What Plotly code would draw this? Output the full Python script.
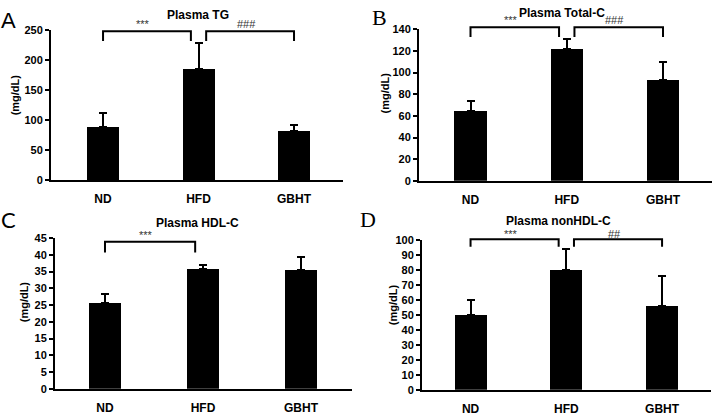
import plotly.graph_objects as go

# ---------------- data ----------------
categories = ["ND", "HFD", "GBHT"]

tg_mean = [88, 186, 81]
tg_err = [24, 43, 10]

tc_mean = [64.5, 122, 93]
tc_err = [9, 9.5, 17]

hdl_mean = [25.6, 35.9, 35.6]
hdl_err = [2.8, 1.0, 3.9]

nonhdl_mean = [50, 80, 56]
nonhdl_err = [10, 14, 20]

tg_sig = [(0, 1, "***"), (1, 2, "###")]
tc_sig = [(0, 1, "***"), (1, 2, "###")]
hdl_sig = [(0, 1, "***")]
nonhdl_sig = [(0, 1, "***"), (1, 2, "##")]

titles = ["Plasma TG", "Plasma Total-C", "Plasma HDL-C", "Plasma nonHDL-C"]
letters = ["A", "B", "C", "D"]
y_max = [250, 140, 45, 100]
y_dtick = [50, 20, 5, 10]

# ---------------- layout config (pixels) ----------------
W, H = 714, 420


def px(x):
    return x / W


def py(y):
    return 1 - y / H


panels = [
    dict(mean=tg_mean, err=tg_err, sig=tg_sig, box=(51, 343, 25, 179), xr=(-0.545, 2.513),
         brk=(248.4, 232.2), title_xy=(198, 9), ylab_xy=(15, 92), star_shift=7,
         letter_xy=(8, 15), letter_font="Liberation Sans"),
    dict(mean=tc_mean, err=tc_err, sig=tc_sig, box=(419, 712, 24, 180), xr=(-0.535, 2.509),
         brk=(141.8, 132.8), title_xy=(562, 7), ylab_xy=(385, 90), star_shift=7,
         letter_xy=(379, 12), letter_font="Liberation Serif"),
    dict(mean=hdl_mean, err=hdl_err, sig=hdl_sig, box=(55, 352, 239, 394), xr=(-0.51, 2.52),
         brk=(43.9, 40.7), title_xy=(197, 223), ylab_xy=(24, 305), star_shift=7,
         letter_xy=(8, 220), letter_font="Lato"),
    dict(mean=nonhdl_mean, err=nonhdl_err, sig=nonhdl_sig, box=(422, 711, 241, 395), xr=(-0.507, 2.511),
         brk=(100.6, 95.5), title_xy=(558, 221), ylab_xy=(393, 308), star_shift=5,
         letter_xy=(368, 220), letter_font="Liberation Serif"),
]

fig = go.Figure()
shapes = []
annotations = []
layout_axes = {}

bold = dict(family="Liberation Sans, Arial", color="black", weight="bold")

for i, p in enumerate(panels):
    n = "" if i == 0 else str(i + 1)
    xa, ya = "x" + n, "y" + n
    x0p, x1p, ytp, ybp = p["box"]
    xpos = list(range(len(categories)))
    fig.add_trace(go.Bar(
        x=xpos, y=p["mean"], width=0.335,
        marker=dict(color="black", line=dict(width=0)),
        error_y=dict(type="data", symmetric=False, array=p["err"],
                     arrayminus=[0] * len(categories),
                     color="black", thickness=2, width=4),
        xaxis=xa, yaxis=ya, showlegend=False,
    ))
    layout_axes["xaxis" + n] = dict(
        domain=[px(x0p), px(x1p)], range=list(p["xr"]), anchor=ya,
        tickvals=xpos, ticktext=categories, ticks="",
        showline=True, linecolor="black", linewidth=2,
        showgrid=False, zeroline=False, fixedrange=True,
        tickfont=dict(size=12, **bold), ticklabelstandoff=7,
    )
    layout_axes["yaxis" + n] = dict(
        domain=[py(ybp), py(ytp)], range=[0, y_max[i]], dtick=y_dtick[i], anchor=xa,
        showline=True, linecolor="black", linewidth=2,
        ticks="outside", ticklen=4, tickwidth=2, tickcolor="black",
        showgrid=False, zeroline=False, fixedrange=True,
        tickfont=dict(size=11, **bold),
    )
    top_d = p["brk"][0] / y_max[i]
    bot_d = p["brk"][1] / y_max[i]
    for (a, b, label) in p["sig"]:
        xa0 = a + (0.08 if a == 1 else 0)
        xb0 = b - (0.08 if b == 1 else 0)
        shapes.append(dict(
            type="path", xref=xa, yref=ya + " domain",
            path=f"M {xa0},{bot_d} L {xa0},{top_d} L {xb0},{top_d} L {xb0},{bot_d}",
            line=dict(color="black", width=2),
        ))
        annotations.append(dict(
            x=(xa0 + xb0) / 2, y=top_d, xref=xa, yref=ya + " domain",
            text=label, showarrow=False, yanchor="middle", yshift=p["star_shift"], xshift=-4,
            borderpad=0,
            font=dict(family="Liberation Sans, Arial", size=11, color="#333"),
        ))
    tx, ty = p["title_xy"]
    annotations.append(dict(x=px(tx), y=py(ty), xref="paper", yref="paper",
                            text=titles[i], showarrow=False, xanchor="center", yanchor="middle",
                            borderpad=0, font=dict(size=12, **bold)))
    lx, ly = p["ylab_xy"]
    annotations.append(dict(x=px(lx), y=py(ly), xref="paper", yref="paper",
                            text="(mg/dL)", showarrow=False, textangle=-90,
                            xanchor="center", yanchor="middle",
                            font=dict(size=11, **bold)))
    gx, gy = p["letter_xy"]
    annotations.append(dict(x=px(gx), y=py(gy), xref="paper", yref="paper",
                            text=letters[i], showarrow=False, xanchor="center", yanchor="middle",
                            font=dict(family=p["letter_font"], size=22, color="black")))

fig.update_layout(
    width=W, height=H, margin=dict(l=0, r=0, t=0, b=0),
    paper_bgcolor="white", plot_bgcolor="white",
    showlegend=False, shapes=shapes, annotations=annotations,
    bargap=0, **layout_axes,
)

fig.write_html("out.html", config={"displayModeBar": False, "staticPlot": True})

# remove the browser's default page margin so the figure sits at the window origin
with open("out.html", "r", encoding="utf-8") as f:
    html = f.read()
html = html.replace("<body>", '<body style="margin:0;padding:0;overflow:hidden">', 1)
with open("out.html", "w", encoding="utf-8") as f:
    f.write(html)
